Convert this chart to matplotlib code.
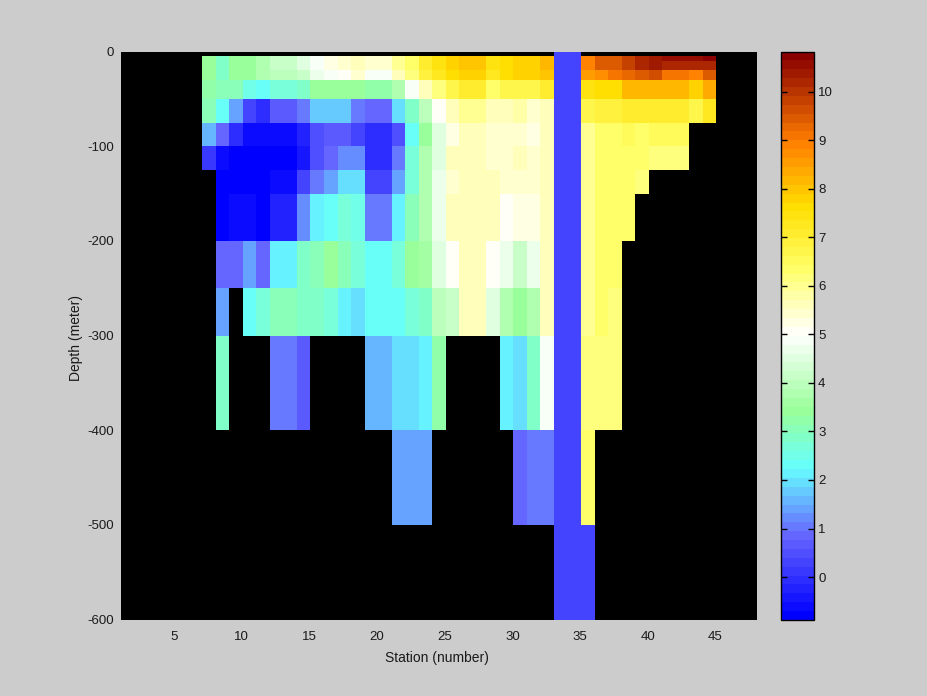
import numpy as np
import matplotlib
matplotlib.use("Agg")
import matplotlib.pyplot as plt
from matplotlib.colors import LinearSegmentedColormap
from matplotlib.transforms import ScaledTranslation

N = np.nan
P = 0.34
depth_edges = [0, 5, 10, 20, 30, 50, 75, 100, 125, 150, 200, 250, 300, 400, 500, 600]
station_edges = list(range(7, 46))   # columns 7..44

#         7     8     9     10    11    12    13    14    15   16   17   18    19    20    21   22   23   24   25   26   27   28   29   30   31   32  33 34   35   36   37   38   39    40    41    42    43    44
d_0  = [  N,    N,    N,    N,    N,    N,    N,    N,    N,   N,   N,   N,    N,    N,    N,   N,   N,   N,   N,   N,   N,   N,   N,   N,   N,   N,  P, P,   N,   N,   N,   N,   N,    N,    N,    N,    N,    N]
d_5  = [3.5,  2.9,  3.4,  3.4,  3.7,  4.2,  4.2,  4.5,  4.9, 5.2, 5.4, 5.6,  5.4,  5.4,  5.9, 6.3, 7.0, 7.4, 7.8, 8.0, 8.0, 7.5, 7.7, 7.9, 7.9, 8.2,  P, P, 8.9, 9.5, 9.5, 9.9, 10.2, 10.4, 10.5, 10.5, 10.5, 10.7]
d_10 = [3.5,  2.9,  3.4,  3.4,  3.7,  4.2,  4.2,  4.5,  4.9, 5.2, 5.4, 5.6,  5.4,  5.4,  5.9, 6.3, 7.0, 7.4, 7.8, 8.0, 8.0, 7.5, 7.7, 7.9, 7.9, 8.2,  P, P, 8.9, 9.5, 9.5, 9.9, 10.2, 10.4, 10.2, 10.2, 10.2, 10.2]
d_20 = [3.5,  2.9,  3.4,  3.4,  3.7,  3.9,  3.9,  4.2,  4.7, 4.9, 5.1, 5.4,  4.9,  4.9,  5.6, 6.1, 6.9, 7.2, 7.7, 7.8, 7.8, 7.2, 7.6, 7.8, 7.8, 8.0,  P, P, 8.6, 8.8, 9.0, 9.2, 9.4,  9.6,  9.1,  9.1,  8.9,  9.4]
d_30 = [3.3,  3.0,  3.0,  2.5,  2.3,  2.6,  2.6,  2.9,  3.4, 3.5, 3.5, 3.4,  3.2,  3.2,  3.8, 4.9, 5.7, 6.2, 6.7, 7.0, 7.0, 6.4, 6.7, 6.7, 6.7, 7.0,  P, P, 7.4, 7.7, 7.7, 8.1, 8.2,  8.2,  8.2,  8.2,  7.8,  8.4]
d_50 = [3.0,  2.3,  1.4, 0.24,-0.14,  0.6,  0.6,  1.0,  1.7, 1.7, 1.7, 1.1,  0.9,  0.9,  1.9, 2.9, 3.9, 5.0, 5.7, 6.0, 6.0, 5.6, 5.6, 5.8, 5.4, 5.7,  P, P, 6.7, 6.9, 6.9, 7.1, 7.1,  7.1,  7.1,  7.1,  6.8,  7.3]
d_75 = [1.6,  0.9,-0.04, -0.6, -0.6, -0.6, -0.6,-0.19, 0.44, 0.7, 0.7,0.24,-0.14,-0.14, 0.52, 2.3, 3.4, 4.5, 5.2, 5.7, 5.7, 5.4, 5.4, 5.4, 5.2, 5.6,  P, P, 5.9, 6.3, 6.3, 6.6, 6.4,  6.6,  6.6,  6.6,    N,    N]
d_100= [0.17,-0.54,-0.88,-0.88,-0.88,-0.75,-0.75,-0.36, 0.52, 0.9, 1.2, 1.2,-0.04,-0.04,  1.1, 2.6, 3.7, 4.5, 5.6, 5.7, 5.7, 5.5, 5.5, 5.6, 5.4, 5.6,  P, P, 6.0, 6.3, 6.3, 6.3, 6.3,  6.1,  6.1,  6.1,    N,    N]
d_125= [  N,-0.88,-0.88,-0.88,-0.88, -0.6, -0.6, 0.24,  1.0, 1.4, 1.9, 1.9, 0.34, 0.34,  1.4, 2.6, 3.7, 4.7, 5.4, 5.7, 5.7, 5.6, 5.4, 5.4, 5.4, 5.6,  P, P, 6.0, 6.3, 6.3, 6.3, 6.1,    N,    N,    N,    N,    N]
d_150= [  N,-0.75,-0.54,-0.54,-0.75,-0.19,-0.19,  1.2,  2.1, 2.3, 2.7, 2.5,  1.1,  1.1,  2.1, 3.0, 3.7, 4.7, 5.6, 5.7, 5.7, 5.6, 5.0, 5.2, 5.2, 5.6,  P, P, 6.0, 6.3, 6.3, 6.3,   N,    N,    N,    N,    N,    N]
d_200= [  N,  0.8,  0.8,  1.4,  0.8,  2.2,  2.2,  2.8,  3.0, 3.4, 3.0, 2.6,  2.4,  2.4,  2.7, 3.4, 3.6, 4.5, 5.0, 5.7, 5.7, 5.0, 4.7, 4.2, 4.7, 5.6,  P, P, 6.0, 6.3, 6.3,   N,   N,    N,    N,    N,    N,    N]
d_250= [  N,  1.4,    N,  2.3,  2.7,  3.0,  3.0,  2.8,  2.8, 2.6, 2.1, 1.9,  2.4,  2.4,  2.4, 2.6, 2.8, 3.9, 4.2, 5.7, 5.7, 4.5, 3.7, 3.5, 3.7, 5.6,  P, P, 6.0, 6.3, 6.1,   N,   N,    N,    N,    N,    N,    N]
d_300= [  N,  2.9,    N,    N,    N,  1.1,  1.1,  0.6,    N,   N,   N,   N,  1.5,  1.5,  1.9, 1.9, 2.2, 3.3,   N,   N,   N,   N, 2.1, 1.9, 2.8, 4.9,  P, P, 6.1, 6.1, 6.1,   N,   N,    N,    N,    N,    N,    N]
d_400= [  N,    N,    N,    N,    N,    N,    N,    N,    N,   N,   N,   N,    N,    N,  1.4, 1.4, 1.4,   N,   N,   N,   N,   N,   N, 0.8, 1.0, 1.0,  P, P, 6.4,   N,   N,   N,   N,    N,    N,    N,    N,    N]
d_500= [  N,    N,    N,    N,    N,    N,    N,    N,    N,   N,   N,   N,    N,    N,    N,   N,   N,   N,   N,   N,   N,   N,   N,   N,   N,   N,  P, P,   P,   N,   N,   N,   N,    N,    N,    N,    N,    N]
temps = [d_0, d_5, d_10, d_20, d_30, d_50, d_75, d_100, d_125, d_150, d_200, d_250, d_300, d_400, d_500]

x_ticks = [5, 10, 15, 20, 25, 30, 35, 40, 45]
y_ticks = [0, -100, -200, -300, -400, -500, -600]
cbar_ticks = list(range(0, 11))
vmin, vmax = -0.885, 10.83

anchors = [(-0.885, "#0000ff"), (0.8, "#6666ff"), (2.2, "#66ffff"), (3.4, "#99ff99"),
           (5.0, "#ffffff"), (6.4, "#ffff66"), (7.7, "#ffdd00"), (9.0, "#ff8000"), (10.83, "#880000")]
cmap = LinearSegmentedColormap.from_list(
    "ocean", [((v - vmin) / (vmax - vmin), c) for v, c in anchors], N=64)

plt.rcParams["font.family"] = ["Liberation Sans", "DejaVu Sans"]
plt.rcParams["axes.unicode_minus"] = False
plt.rcParams["font.size"] = 9.5
W, H = 928, 696
fig = plt.figure(figsize=(W / 100, H / 100), dpi=100, facecolor="#cccccc")


def box(l, t, r, b):
    return [l / W, 1 - b / H, (r - l) / W, (b - t) / H]


ax = fig.add_axes(box(121, 51.5, 757, 619.5), facecolor="black")
mesh = ax.pcolormesh(station_edges, -np.array(depth_edges), np.ma.masked_invalid(np.array(temps)),
                     cmap=cmap, vmin=vmin, vmax=vmax, shading="flat", antialiased=False)
ax.set_xlim(1, 48)
ax.set_ylim(-600, 0)
ax.set_xticks(x_ticks)
ax.set_yticks(y_ticks)
ax.tick_params(length=0, pad=8.5, labelsize=9.5, colors="#1a1a1a")
ax.tick_params(axis="y", pad=5)
shift = ScaledTranslation(-1 / 100, 0, fig.dpi_scale_trans)
for lab in ax.get_xticklabels():
    lab.set_transform(lab.get_transform() + shift)
ax.set_xlabel("Station (number)", fontsize=10, color="#1a1a1a", labelpad=5.5, x=0.4975)
ax.set_ylabel("Depth (meter)", fontsize=10, color="#1a1a1a", labelpad=3, y=0.4956)
for s in ax.spines.values():
    s.set_visible(False)

cax = fig.add_axes(box(781.5, 51.5, 814, 620))
cb = fig.colorbar(mesh, cax=cax)
cb.set_ticks(cbar_ticks)
cax.tick_params(axis="y", which="both", left=True, right=True, direction="in",
                length=4, width=1, color="black", labelsize=9.5, labelcolor="#1a1a1a", pad=3)
cb.minorticks_off()
cb.outline.set_edgecolor("black")
cb.outline.set_linewidth(1)

fig.savefig("out.png", dpi=100, facecolor=fig.get_facecolor())
